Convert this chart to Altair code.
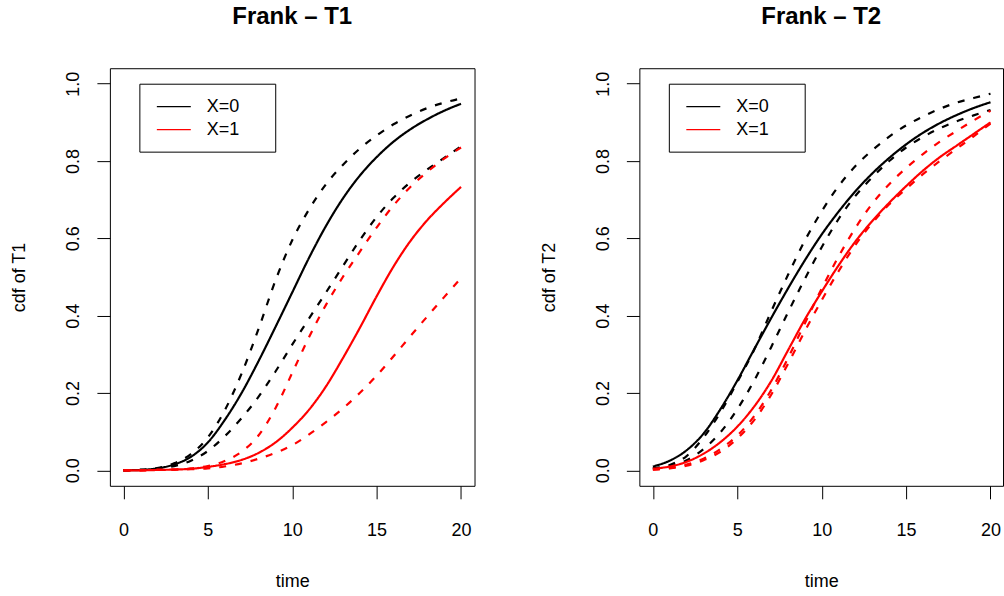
import altair as alt
import pandas as pd

# time grid shared by every curve
time = list(range(0, 21))

# ---- Frank copula, T1: cdf estimates with lower/upper bands ----
t1_x0_est = [0, 0.001, 0.005, 0.015, 0.035, 0.072, 0.13, 0.2, 0.282, 0.37, 0.46, 0.55, 0.632, 0.703, 0.762, 0.81, 0.85, 0.882, 0.908, 0.93, 0.948]
t1_x0_hi = [0, 0.001, 0.006, 0.018, 0.042, 0.085, 0.155, 0.25, 0.365, 0.49, 0.595, 0.675, 0.74, 0.79, 0.832, 0.866, 0.895, 0.918, 0.937, 0.951, 0.962]
t1_x0_lo = [0, 0.001, 0.004, 0.011, 0.025, 0.05, 0.088, 0.135, 0.19, 0.255, 0.325, 0.393, 0.46, 0.528, 0.595, 0.655, 0.705, 0.745, 0.778, 0.808, 0.838]
t1_x1_est = [0, 0, 0.001, 0.002, 0.004, 0.009, 0.016, 0.027, 0.045, 0.072, 0.11, 0.157, 0.217, 0.29, 0.368, 0.45, 0.527, 0.593, 0.647, 0.692, 0.733]
t1_x1_hi = [0, 0, 0.001, 0.002, 0.005, 0.011, 0.024, 0.048, 0.09, 0.16, 0.252, 0.345, 0.428, 0.5, 0.565, 0.628, 0.685, 0.733, 0.772, 0.806, 0.835]
t1_x1_lo = [0, 0, 0.001, 0.002, 0.003, 0.005, 0.01, 0.018, 0.03, 0.045, 0.065, 0.093, 0.125, 0.16, 0.2, 0.245, 0.295, 0.347, 0.398, 0.448, 0.497]

# ---- Frank copula, T2 ----
t2_x0_est = [0.01, 0.025, 0.052, 0.095, 0.158, 0.232, 0.313, 0.393, 0.47, 0.543, 0.61, 0.669, 0.722, 0.768, 0.808, 0.843, 0.873, 0.898, 0.919, 0.937, 0.952]
t2_x0_hi = [0.005, 0.014, 0.037, 0.085, 0.15, 0.228, 0.312, 0.41, 0.505, 0.594, 0.67, 0.735, 0.787, 0.828, 0.863, 0.892, 0.915, 0.935, 0.951, 0.963, 0.974]
t2_x0_lo = [0.005, 0.01, 0.026, 0.055, 0.098, 0.158, 0.232, 0.318, 0.408, 0.495, 0.577, 0.65, 0.71, 0.758, 0.8, 0.835, 0.862, 0.885, 0.903, 0.918, 0.932]
t2_x1_est = [0.004, 0.01, 0.022, 0.043, 0.073, 0.113, 0.165, 0.23, 0.31, 0.39, 0.462, 0.53, 0.592, 0.645, 0.692, 0.735, 0.775, 0.81, 0.84, 0.87, 0.9]
t2_x1_hi = [0.002, 0.006, 0.015, 0.03, 0.055, 0.09, 0.14, 0.207, 0.29, 0.38, 0.47, 0.553, 0.627, 0.69, 0.74, 0.782, 0.818, 0.85, 0.878, 0.905, 0.93]
t2_x1_lo = [0.002, 0.005, 0.012, 0.026, 0.048, 0.082, 0.13, 0.195, 0.275, 0.36, 0.44, 0.515, 0.583, 0.64, 0.688, 0.728, 0.766, 0.8, 0.832, 0.864, 0.897]

groups = ["X=0", "X=1"]
bands = ["est", "lo", "hi"]
x_ticks = [0, 5, 10, 15, 20]
y_ticks = [0.0, 0.2, 0.4, 0.6, 0.8, 1.0]

FONT = "Liberation Sans, Arial, Helvetica, sans-serif"


def long_table(series):
    rows = []
    for (grp, band), vals in series.items():
        for t, v in zip(time, vals):
            rows.append({"time": t, "cdf": v, "grp": grp, "band": band,
                         "curve": f"{grp}-{band}"})
    return pd.DataFrame(rows)


def panel(series, title, ylabel, width, xmax):
    df = long_table(series)
    x = alt.X("time:Q", scale=alt.Scale(domain=[-0.8, xmax], nice=False, zero=False),
              axis=alt.Axis(values=x_ticks, title="time", format="d"))
    y = alt.Y("cdf:Q", scale=alt.Scale(domain=[-0.04, 1.04], nice=False, zero=False),
              axis=alt.Axis(values=y_ticks, title=ylabel, format=".1f"))
    color = alt.Color("grp:N", scale=alt.Scale(domain=groups, range=["#000000", "#ff0000"]), legend=None)
    dash = alt.StrokeDash("band:N", scale=alt.Scale(domain=bands, range=[[1, 0], [7, 9], [7, 9]]), legend=None)

    layers = []
    for grp in groups:
        layers.append(
            alt.Chart(df[df["grp"] == grp]).mark_line(
                strokeWidth=2.2, interpolate="monotone", strokeCap="butt"
            ).encode(x=x, y=y, color=color, strokeDash=dash, detail="curve:N")
        )

    # legend box drawn in pixel space inside the plot area
    leg_box = alt.Chart(pd.DataFrame({"k": [0]})).mark_rect(
        fill="white", stroke="black", strokeWidth=1
    ).encode(x=alt.value(30), x2=alt.value(166), y=alt.value(16), y2=alt.value(84))
    leg = pd.DataFrame({"grp": groups, "ypix": [38.5, 61.5]})
    leg_lines = alt.Chart(leg).mark_rule(strokeWidth=1.3).encode(
        x=alt.value(47), x2=alt.value(81), y=alt.Y("ypix:Q", scale=None),
        color=alt.Color("grp:N", scale=alt.Scale(domain=groups, range=["#000000", "#ff0000"]), legend=None),
    )
    leg_text = alt.Chart(leg).mark_text(
        align="left", baseline="middle", fontSize=18, font=FONT, color="black"
    ).encode(x=alt.value(97), y=alt.Y("ypix:Q", scale=None), text="grp:N")

    return alt.layer(*layers, leg_box, leg_lines, leg_text).properties(
        width=width, height=418,
        title=alt.TitleParams(title, fontSize=24, fontWeight="bold", font=FONT,
                              anchor="middle", frame="group", offset=39, color="black"),
    )


left = panel({("X=0", "est"): t1_x0_est, ("X=0", "hi"): t1_x0_hi, ("X=0", "lo"): t1_x0_lo,
              ("X=1", "est"): t1_x1_est, ("X=1", "hi"): t1_x1_hi, ("X=1", "lo"): t1_x1_lo},
             "Frank – T1", "cdf of T1", 365, 20.8)
right = panel({("X=0", "est"): t2_x0_est, ("X=0", "hi"): t2_x0_hi, ("X=0", "lo"): t2_x0_lo,
               ("X=1", "est"): t2_x1_est, ("X=1", "hi"): t2_x1_hi, ("X=1", "lo"): t2_x1_lo},
              "Frank – T2", "cdf of T2", 364, 20.74)

chart = alt.hconcat(left, right, spacing=165, bounds="flush").properties(
    padding={"left": 10, "top": 4, "right": 0, "bottom": 0},
    background="white",
).configure_view(
    stroke="black", strokeWidth=1
).configure_axis(
    domain=False, grid=False, ticks=True, tickSize=13, tickColor="black", tickWidth=1,
    labelFont=FONT, labelFontSize=18, labelColor="black",
    titleFont=FONT, titleFontSize=18, titleFontWeight="normal", titleColor="black",
).configure_axisX(
    labelPadding=23, titlePadding=33,
).configure_axisY(
    labelAngle=270, labelAlign="center", labelBaseline="bottom", labelPadding=14, titlePadding=36,
)

chart.save("out.html", embed_options={"renderer": "svg", "actions": False})
